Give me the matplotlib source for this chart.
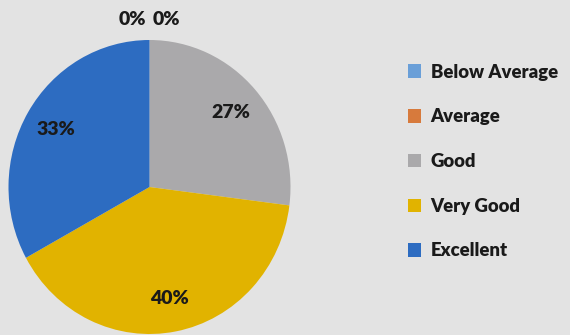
import numpy as np
import matplotlib
matplotlib.use("Agg")
import matplotlib.pyplot as plt

# Survey ratings
categories = ["Below Average", "Average", "Good", "Very Good", "Excellent"]
shares = [0, 0, 27, 40, 33]
colors = ["#6a9fd8", "#d77a3c", "#aaa9ab", "#e1b300", "#2d6cc1"]

plt.rcParams["font.family"] = ["Lato", "DejaVu Sans"]

W, H = 570, 335
fig = plt.figure(figsize=(W / 100, H / 100), dpi=100)
fig.patch.set_facecolor("#e3e3e3")

# pie axes placed in pixel units: centre (149.5, 187), radii 141 x 147
cx, cy, rx, ry = 149.5, 187, 141, 147
ax = fig.add_axes([(cx - rx) / W, (H - cy - ry) / H, 2 * rx / W, 2 * ry / H])
wedges, _ = ax.pie(shares, colors=colors, startangle=90, counterclock=False,
                   wedgeprops=dict(linewidth=0))
ax.set_aspect("auto")
ax.set_xlim(-1, 1)
ax.set_ylim(-1, 1)

zero_offsets = iter([-0.12, 0.12])
for w, v in zip(wedges, shares):
    if v > 0:
        ang = np.deg2rad((w.theta1 + w.theta2) / 2)
        x, y = 0.77 * np.cos(ang), 0.77 * np.sin(ang)
    else:
        x, y = next(zero_offsets), 1.14
    ax.text(x, y, f"{v}%", ha="center", va="center", fontsize=14,
            fontweight="heavy", color="#1a1a1a")

leg = fig.legend(wedges, categories, loc="upper left",
                 bbox_to_anchor=(391 / W, 1 - 47 / H), frameon=False,
                 prop=dict(size=13.3, weight="heavy"), labelcolor="#1a1a1a",
                 handlelength=0.75, handleheight=0.75, handletextpad=0.5,
                 labelspacing=1.5)

fig.savefig("out.png", dpi=100, facecolor=fig.get_facecolor())
